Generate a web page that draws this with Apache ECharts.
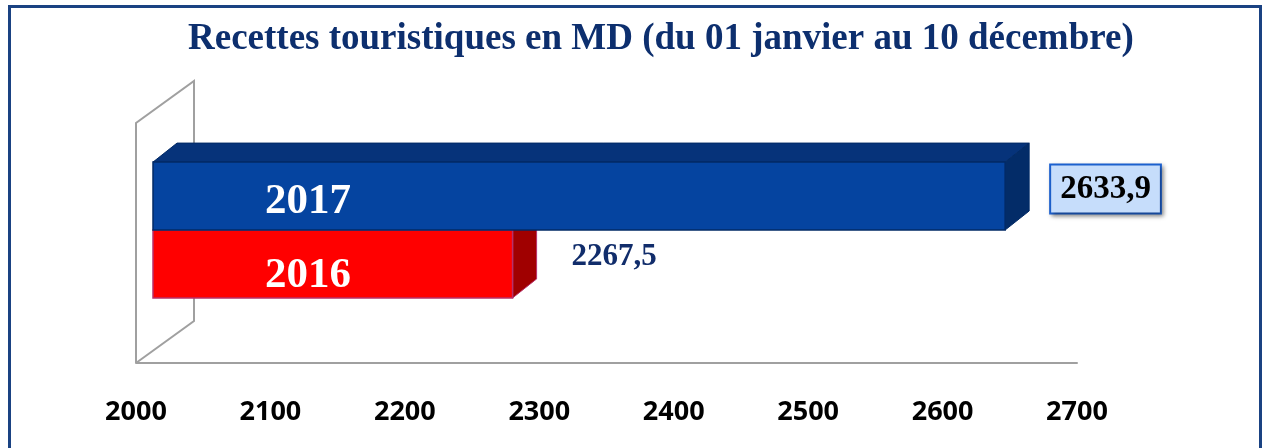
<!DOCTYPE html>
<html>
<head>
<meta charset="utf-8">
<script src="https://cdn.jsdelivr.net/npm/echarts@6/dist/echarts.min.js"></script>
<style>
  html, body { margin: 0; padding: 0; background: #fff; }
  #main { width: 1266px; height: 448px; }
</style>
</head>
<body>
<div id="main"></div>
<script>
// donnees
var years = ['2016', '2017'];
var recettes = [2267.5, 2633.9];
var recettesTxt = ['2267,5', '2633,9'];
var axisMin = 2000, axisMax = 2700, axisStep = 100;

// mise en page du "3D"
var gridLeft = 136, gridRight = 189, gridTop = 123, gridBottom = 85;
var wallDx = 58, wallDy = -42;     // profondeur du mur
var barDx = 17, barDy = -13;       // decalage face avant des barres
var depthDx = 24, depthDy = -19;   // epaisseur des barres
var barFrac = 0.283;               // hauteur d'une barre / hauteur de bande

var faces = [
  // 2016 rouge
  { front: '#ff0000', top: '#c00000', side: '#a00000', line: '#b8306a' },
  // 2017 bleu
  { front: '#0544a0', top: '#06337a', side: '#032c68', line: '#022a66' }
];

function renderBar(params, api) {
  var i = params.dataIndex;
  var start = api.coord([axisMin, 0]);
  var end = api.coord([api.value(0), 0]);
  var band = api.size([0, 1])[1];
  var h = band * barFrac;
  var x0 = start[0] + barDx, x1 = end[0] + barDx;
  var yc = start[1] + barDy;
  var y0 = i === 1 ? yc - h : yc;
  var y1 = y0 + h;
  var c = faces[i];
  var kids = [
    { type: 'polygon', shape: { points: [[x0, y0], [x0 + depthDx, y0 + depthDy], [x1 + depthDx, y0 + depthDy], [x1, y0]] },
      style: { fill: c.top, stroke: c.line, lineWidth: 1 } },
    { type: 'polygon', shape: { points: [[x1, y0], [x1 + depthDx, y0 + depthDy], [x1 + depthDx, y1 + depthDy], [x1, y1]] },
      style: { fill: c.side, stroke: c.line, lineWidth: 1 } },
    { type: 'rect', shape: { x: x0, y: y0, width: x1 - x0, height: h },
      style: { fill: c.front, stroke: c.line, lineWidth: 1.5 } },
    { type: 'text', x: x0 + 155, y: (y0 + y1) / 2 + (i === 1 ? 6 : 12),
      style: { text: years[i], fill: '#fff', font: 'bold 43px "Liberation Serif"', align: 'center', verticalAlign: 'middle' } }
  ];
  var lx = x1 + depthDx;
  var ly = (y0 + y1) / 2 - 7;
  if (i === 1) {
    kids.push({ type: 'text', x: lx + 22, y: ly,
      style: { text: recettesTxt[i], fill: '#000', font: 'bold 33px "Liberation Serif"', align: 'left', verticalAlign: 'middle',
        backgroundColor: '#c6ddfb', borderColor: '#1d62d2', borderWidth: 2, padding: [8, 9, 6, 9],
        shadowColor: 'rgba(0,0,0,0.35)', shadowBlur: 4, shadowOffsetX: 2, shadowOffsetY: 2 } });
  } else {
    kids.push({ type: 'text', x: lx + 35, y: ly,
      style: { text: recettesTxt[i], fill: '#112d6b', font: 'bold 31px "Liberation Serif"', align: 'left', verticalAlign: 'middle' } });
  }
  return { type: 'group', children: kids };
}

var chart = echarts.init(document.getElementById('main'), null, { renderer: 'canvas' });

var option = {
  animation: false,
  backgroundColor: '#fff',
  title: {
    text: 'Recettes touristiques en MD (du 01 janvier au 10 décembre)',
    left: 183,
    top: 16,
    textStyle: { color: '#0d2f6e', fontFamily: 'Liberation Serif', fontWeight: 'bold', fontSize: 37 }
  },
  grid: { left: gridLeft, right: gridRight, top: gridTop, bottom: gridBottom },
  xAxis: {
    type: 'value',
    min: axisMin,
    max: axisMax,
    interval: axisStep,
    splitLine: { show: false },
    axisTick: { show: false },
    axisLine: { show: true, lineStyle: { color: '#a0a0a0', width: 2 } },
    axisLabel: { color: '#000', fontFamily: 'Open Sans', fontWeight: 'bold', fontSize: 27, margin: 36,
      formatter: function (v) { return String(v); } }
  },
  yAxis: {
    type: 'category',
    data: ['Recettes'],
    axisLine: { show: false },
    axisTick: { show: false },
    axisLabel: { show: false },
    splitLine: { show: false }
  },
  graphic: [
    { type: 'rect', shape: { x: 9.5, y: 6.5, width: 1251, height: 480 },
      style: { fill: 'none', stroke: '#1a4282', lineWidth: 3 }, z: 10 },
    // mur et sol
    { type: 'polyline', shape: { points: [
        [gridLeft, 448 - gridBottom],
        [gridLeft, gridTop],
        [gridLeft + wallDx, gridTop + wallDy],
        [gridLeft + wallDx, 448 - gridBottom + wallDy],
        [gridLeft, 448 - gridBottom]
      ] },
      style: { fill: 'none', stroke: '#a0a0a0', lineWidth: 2 }, z: 0 }
  ],
  series: [{
    type: 'custom',
    renderItem: renderBar,
    data: recettes.map(function (v) { return [v, 0]; }),
    encode: { x: 0, y: 1 },
    z: 5
  }]
};

chart.setOption(option);
</script>
</body>
</html>
